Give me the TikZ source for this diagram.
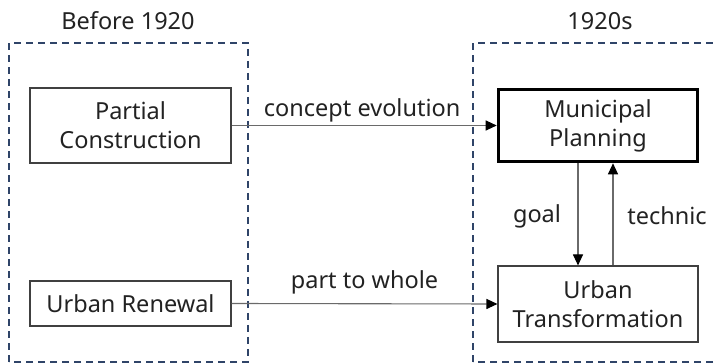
\documentclass[tikz,border=0pt]{standalone}
\usepackage{fontspec}
\setmainfont{Noto Sans}
\usetikzlibrary{arrows.meta}
\definecolor{navy}{HTML}{2F4468}
\definecolor{txt}{HTML}{222222}
\definecolor{edge}{HTML}{404040}
\definecolor{arr}{HTML}{6A6A6A}
\tikzset{
  group/.style={draw=navy, line width=1.4pt, dash pattern=on 7pt off 5pt},
  box/.style={draw=edge, line width=1.1pt, minimum width=201pt, align=center, inner sep=0pt, text=txt, font=\fontsize{23.5}{29}\selectfont},
  thickbox/.style={box, draw=black, line width=3.6pt},
  lbl/.style={text=txt, font=\fontsize{23.5}{29}\selectfont, inner sep=0pt},
  conn/.style={draw=arr, line width=1.1pt, -{Triangle[length=11pt,width=10pt,color=black]}, shorten >=0pt}
}
\begin{document}
\begin{tikzpicture}[x=1pt,y=-1pt]
\useasboundingbox (0,0) rectangle (715,363);
\fill[white] (0,0) rectangle (715,363);
% group frames
\draw[group] (9,362) -- (9,43) -- (248,43) -- (248,362) -- cycle;
\draw[group] (473,362) -- (473,43) -- (730,43) -- (730,362) -- cycle;
\node[lbl] (tl) at (128,21) {Before 1920};
\node[lbl] (tr) at (600,21) {1920s};
% boxes
\node[box, minimum height=75pt] (pc) at (130.5,125.5) {Partial\\Construction};
\node[box, minimum height=45pt] (ur) at (130.5,303.5) {Urban Renewal};
\node[thickbox, minimum width=199pt, minimum height=72pt] (mp) at (598,125.5) {Municipal\\Planning};
\node[box, minimum width=200pt, minimum height=76pt] (ut) at (598,304) {Urban\\Transformation};
% connectors
\draw[conn] (pc.east) -- (mp.west) node[lbl, midway, above=3pt, xshift=-2pt] {concept evolution};
\draw[conn] (ur.east) -- (ut.west) node[lbl, midway, above=9pt] {part to whole};
\draw[conn] (mp.south -| 578,0) -- (ut.north -| 578,0);
\draw[conn] (ut.north -| 613,0) -- (mp.south -| 613,0);
\node[lbl] (goal) at (537,216) {goal};
\node[lbl] (tech) at (667,216) {technic};
\end{tikzpicture}
\end{document}
